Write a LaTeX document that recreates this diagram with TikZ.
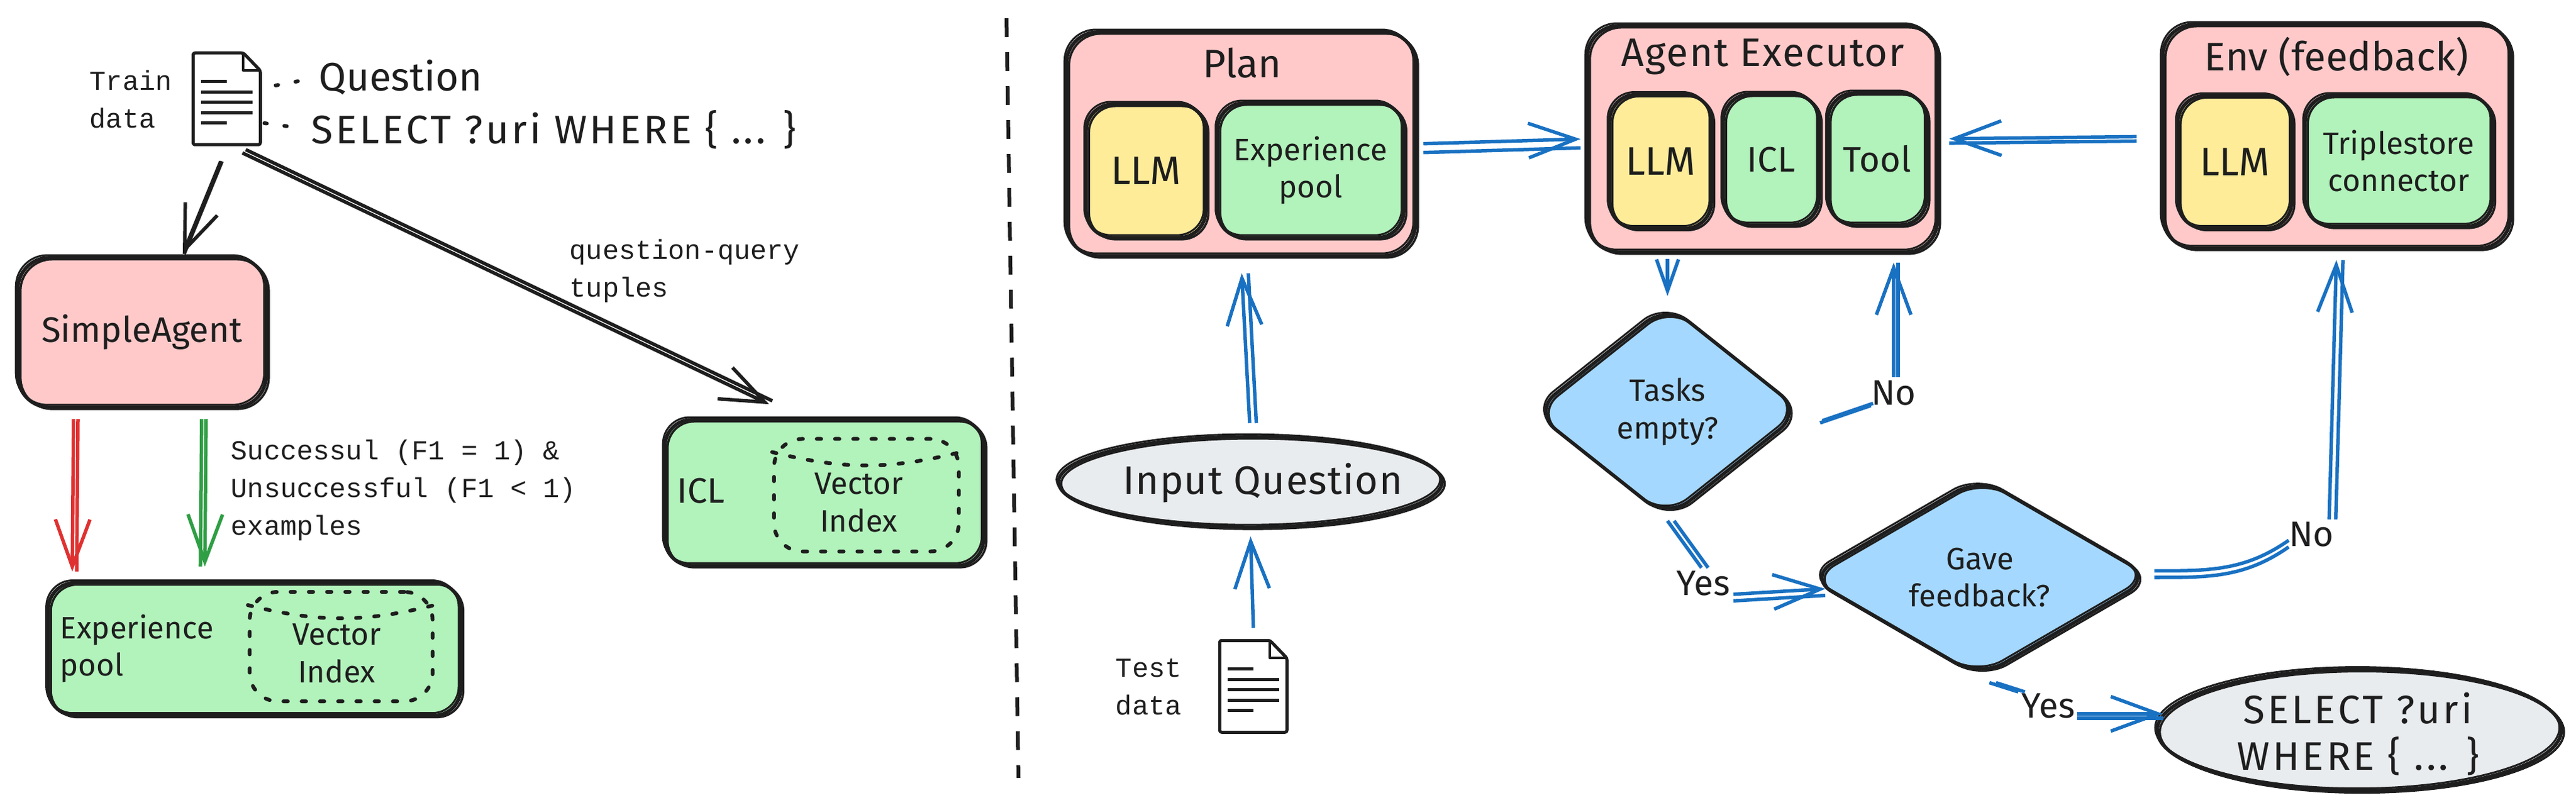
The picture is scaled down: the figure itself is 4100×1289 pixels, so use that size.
\documentclass[tikz,border=0pt]{standalone}
\usepackage{fontspec}
\setmainfont{Fira Sans}
\setmonofont{Liberation Mono}
\usepackage{xcolor}
\usepackage{tikz}
\usetikzlibrary{positioning, arrows.meta, calc, shapes.geometric}
\definecolor{inkc}{HTML}{1E1E1E}
\definecolor{pinkc}{HTML}{FFC9C9}
\definecolor{greenc}{HTML}{B2F2BB}
\definecolor{yellowc}{HTML}{FFEC99}
\definecolor{bluec}{HTML}{A5D8FF}
\definecolor{greyc}{HTML}{E9ECEF}
\definecolor{flowc}{HTML}{1971C2}
\definecolor{failc}{HTML}{E03131}
\definecolor{passc}{HTML}{2F9E44}
\newcommand{\handS}{\fontsize{14}{17}\selectfont}
\newcommand{\handM}{\fontsize{16}{21}\selectfont}
\newcommand{\handL}{\fontsize{18}{21}\selectfont}
\newcommand{\handW}{\addfontfeature{LetterSpace=7}\fontsize{18}{21}\selectfont}
\newcommand{\monoS}{\ttfamily\fontsize{12.4}{17}\selectfont}

\begin{document}
\begin{tikzpicture}[
  x=0.01cm, y=-0.01cm,
  sketch/.style={draw=inkc, line width=0.055cm, text=inkc,
              postaction={draw=inkc, line width=0.035cm, transform canvas={shift={(1.2pt,-0.8pt)}}},
              postaction={draw=inkc, line width=0.03cm, transform canvas={shift={(-0.9pt,1.1pt)}}}},
  pinkbox/.style={sketch, fill=pinkc, rounded corners=0.5cm, align=center, inner sep=0pt},
  greenbox/.style={sketch, fill=greenc, rounded corners=0.42cm, align=center, inner sep=0pt, font=\handS},
  yellowbox/.style={sketch, fill=yellowc, rounded corners=0.42cm, align=center, inner sep=0pt,
              font=\handL},
  turnbox/.style={sketch, fill=bluec, shape=diamond, rounded corners=0.45cm, align=center,
              inner sep=0pt, font=\handS},
  greyoval/.style={sketch, fill=greyc, shape=ellipse, align=center, inner sep=0pt},
  vectorbox/.style={draw=inkc, line width=0.06cm, line cap=round, rounded corners=0.45cm,
              dash pattern=on 0.07cm off 0.22cm, inner sep=0pt},
  vectorlid/.style={draw=inkc, line width=0.06cm, line cap=round, dash pattern=on 0.07cm off 0.22cm},
  handlabel/.style={text=inkc, align=left, inner sep=0pt},
  docbox/.style={minimum width=1.07cm, inner sep=0pt},
  dotlink/.style={draw=inkc, line width=0.06cm, line cap=round, dash pattern=on 0.04cm off 0.28cm},
  twostroke/.style={postaction={draw, -, transform canvas={#1}}},
  inkarrow/.style={draw=inkc, line width=0.055cm,
              -{Straight Barb[length=0.7cm, width=0.55cm]}},
  flowarrow/.style={draw=flowc, line width=0.055cm,
              -{Straight Barb[length=0.75cm, width=0.55cm]}},
  flowline/.style={draw=flowc, line width=0.055cm},
  docicon/.pic={
    \draw[draw=inkc, line width=0.05cm, line join=round, rounded corners=0.03cm]
      (0,0) -- (80,0) -- (107,28) -- (107,146) -- (0,146) -- cycle;
    \draw[draw=inkc, line width=0.04cm, line join=round] (80,0) -- (80,28) -- (107,28);
    \foreach \rowy/\rowx in {45/54, 62/95, 78/95, 95/95, 111/54}
      \draw[draw=inkc, line width=0.05cm] (13,\rowy) -- (\rowx,\rowy);
  }
]
  \useasboundingbox (0,0) rectangle (4100,1289);

  % Training side
  \node[docbox, minimum height=1.46cm] (traindoc) at (361.5,158) {};
  \pic at (traindoc.north west) {docicon};
  \node[handlabel, font=\monoS, left=0.33cm of traindoc] (trainlabel) {Train\\data};
  \node[handlabel, font=\handL, anchor=west] (question) at (507,123) {Question};
  \node[handlabel, font=\handW, anchor=west] (selectline) at (495,206) {SELECT ?uri WHERE \{ ... \}};
  \draw[dotlink, shorten >=0.2cm] ([shift={(23,-22)}]traindoc.east) -- (question.west);
  \draw[dotlink, shorten >=0.12cm] ([shift={(5,38)}]traindoc.east) -- (selectline.west);

  \node[pinkbox, minimum width=3.95cm, minimum height=2.38cm, font=\handM] (simple) at (226,529) {SimpleAgent};
  \node[greenbox, minimum width=6.56cm, minimum height=2.11cm] (exppool) at (405,1033) {};
  \node[handlabel, font=\handS, anchor=west] (exptext) at (95,1032) {Experience\\pool};
  \node[vectorbox, minimum width=2.91cm, minimum height=1.74cm] (expvec) at (543,1029) {};
  \draw[vectorlid] ([shift={(0,24)}]expvec.north west) to[bend right=14] ([shift={(0,24)}]expvec.north east);
  \node[handlabel, font=\handS, align=center] (expvectext) at (536,1040) {Vector\\Index};

  \node[greenbox, minimum width=5.07cm, minimum height=2.32cm] (iclbox) at (1312,784) {};
  \node[handlabel, font=\handM, anchor=west] (icltext) at (1077,781) {ICL};
  \node[vectorbox, minimum width=2.94cm, minimum height=1.79cm] (iclvec) at (1379,788) {};
  \draw[vectorlid] ([shift={(0,24)}]iclvec.north west) to[bend right=14] ([shift={(0,24)}]iclvec.north east);
  \node[handlabel, font=\handS, align=center] (iclvectext) at (1367,800) {Vector\\Index};

  \draw[inkarrow, shorten <=0.27cm, twostroke={xshift=0.6pt}]
    (traindoc.south) -- ([shift={(65,-3)}]simple.north);
  \draw[inkarrow, shorten <=0.27cm, twostroke={shift={(1.5pt,1.5pt)}}]
    (traindoc.south) -- ([shift={(-88,-22)}]iclbox.north);
  \draw[failc, line width=0.055cm, -{Straight Barb[length=0.75cm, width=0.55cm]},
    twostroke={xshift=2pt}] ([shift={(-109,16)}]simple.south) -- ([shift={(-290,-15)}]exppool.north);
  \draw[passc, line width=0.055cm, -{Straight Barb[length=0.75cm, width=0.55cm]},
    twostroke={xshift=-2pt}] ([shift={(102,16)}]simple.south) -- ([shift={(-79,-23)}]exppool.north);

  \node[handlabel, font=\monoS, anchor=west] (querylabel) at (906,431) {question-query\\tuples};
  \node[handlabel, font=\monoS, anchor=west] (examplelabel) at (367,780)
    {Successul (F1 = 1) \&\\Unsuccessful (F1 < 1)\\examples};

  % Divider
  \coordinate (divtop) at (1602,29);
  \coordinate (divbot) at (1621,1238);
  \draw[draw=inkc, line width=0.06cm, dash pattern=on 0.3cm off 0.24cm] (divtop) -- (divbot);

  % Plan
  \node[pinkbox, minimum width=5.55cm, minimum height=3.56cm] (plan) at (1975,229) {};
  \node[handlabel, font=\handL] (plantitle) at (1977,100) {Plan};
  \node[yellowbox, minimum width=1.9cm, minimum height=2.12cm] (planllm) at (1824,272) {LLM};
  \node[greenbox, minimum width=2.96cm, minimum height=2.14cm] (planexp) at (2086,271) {Experience\\pool};

  % Agent Executor
  \node[pinkbox, minimum width=5.57cm, minimum height=3.6cm] (agent) at (2805,221) {};
  \node[handlabel, font=\addfontfeature{LetterSpace=3}\handL] (agenttitle) at (2806,90) {Agent Executor};
  \node[yellowbox, minimum width=1.62cm, minimum height=2.13cm] (agentllm) at (2643,257) {LLM};
  \node[greenbox, minimum width=1.52cm, minimum height=2.08cm, font=\handM] (agenticl) at (2819,254) {ICL};
  \node[greenbox, minimum width=1.57cm, minimum height=2.1cm, font=\handM] (agenttool) at (2988,253) {Tool};

  % Env
  \node[pinkbox, minimum width=5.53cm, minimum height=3.56cm] (env) at (3719,217) {};
  \node[handlabel, font=\handL] (envtitle) at (3719,90) {Env (feedback)};
  \node[yellowbox, minimum width=1.81cm, minimum height=2.11cm] (envllm) at (3557,258) {LLM};
  \node[greenbox, minimum width=2.98cm, minimum height=2.08cm] (envstore) at (3818,256) {Triplestore\\connector};

  % Input side
  \node[greyoval, minimum width=6.1cm, minimum height=1.44cm] (input) at (1990,767) {};
  \node[handlabel, font=\addfontfeature{LetterSpace=2}\handL] (inputtext) at (2010,769) {Input Question};
  \node[docbox, minimum height=1.46cm] (testdoc) at (1995.5,1093) {};
  \pic at (testdoc.north west) {docicon};
  \node[handlabel, font=\monoS, left=0.6cm of testdoc] (testlabel) {Test\\data};

  % Decisions
  \node[turnbox, minimum width=4.3cm, minimum height=3.42cm] (tasks) at (2654,655) {Tasks\\empty?};
  \node[turnbox, minimum width=5.5cm, minimum height=3.1cm] (gave) at (3151,919) {Gave\\feedback?};
  \node[greyoval, minimum width=6.43cm, minimum height=1.93cm] (answer) at (3755,1162) {};
  \node[handlabel, font=\handW, align=center] (answertext) at (3753,1168) {SELECT ?uri\\WHERE \{ ... \}};
  \node[handlabel, font=\handM] (noa) at (3014,625) {No};
  \node[handlabel, font=\handM] (yesa) at (2711,928) {Yes};
  \node[handlabel, font=\handM] (nob) at (3679,850) {No};
  \node[handlabel, font=\handM] (yesb) at (3260,1123) {Yes};

  % Flow
  \draw[flowarrow, shorten <=0.1cm, shorten >=0.08cm, twostroke={yshift=-4pt}] (plan.east) -- (agent.west);
  \draw[flowarrow, shorten <=0.39cm, shorten >=0.16cm, twostroke={yshift=-2pt}] (env.west) -- (agent.east);
  \draw[flowarrow, shorten <=0.19cm, shorten >=0.25cm, twostroke={xshift=3pt}] (input.north) -- (plan.south);
  \draw[flowarrow, shorten <=0.2cm, shorten >=0.12cm] (testdoc.north) -- (input.south);
  \draw[flowarrow, shorten <=0.08cm, shorten >=0.1cm, -{Straight Barb[length=0.5cm, width=0.35cm]}]
    (agent.south -| tasks.north) -- (tasks.north);
  \draw[flowline, twostroke={shift={(1pt,1pt)}}] ([shift={(25,18)}]tasks.east) -- (noa.south west);
  \draw[flowarrow, shorten <=0.05cm, shorten >=0.14cm, twostroke={xshift=2pt}] (noa.north) -- (noa.north |- agent.south);
  \draw[flowline, shorten >=0.05cm, twostroke={xshift=3pt}] (tasks.south) -- (yesa.north);
  \draw[flowarrow, shorten <=0.05cm, twostroke={yshift=-3pt}] ([shift={(0,18)}]yesa.east) -- ([shift={(32,18)}]gave.west);
  \draw[flowline, twostroke={yshift=3pt}] (gave.east) to[out=0, in=215] (nob.south west);
  \draw[flowarrow, shorten >=0.16cm, shorten <=0.03cm, twostroke={xshift=3pt}] ([shift={(28,0)}]nob.north) -- (env.south);
  \draw[flowline, shorten <=0.16cm, shorten >=0.05cm, twostroke={xshift=3pt}] (gave.south) -- (yesb.north west);
  \draw[flowarrow, shorten <=0.03cm, twostroke={yshift=-2pt}] ([shift={(0,13)}]yesb.east) -- ([shift={(12,-26)}]answer.west);
\end{tikzpicture}
\end{document}
